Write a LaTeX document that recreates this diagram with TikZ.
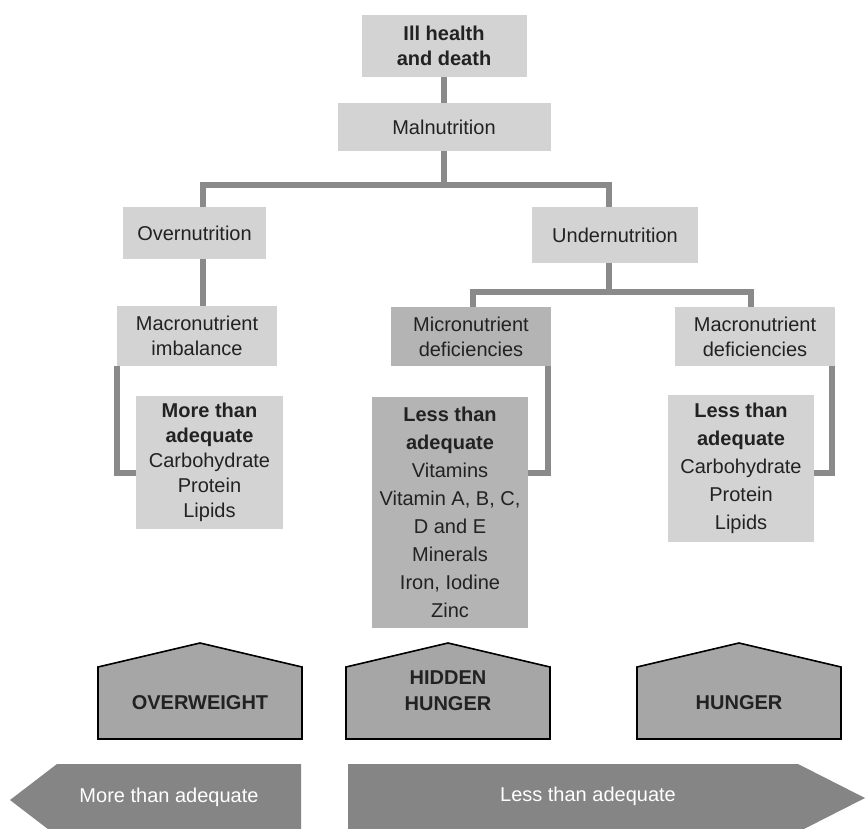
\documentclass[tikz,border=0pt]{standalone}
\usepackage{fontspec}
\setmainfont{Liberation Sans}
\definecolor{boxlight}{HTML}{D3D3D3}
\definecolor{boxdark}{HTML}{B4B4B4}
\definecolor{housegray}{HTML}{A6A6A6}
\definecolor{bandgray}{HTML}{858585}
\definecolor{linkgray}{HTML}{8A8A8A}
\definecolor{ink}{HTML}{222222}
\tikzset{box/.style={fill=boxlight,text=ink,align=center,inner sep=0pt,
                     font=\fontsize{10}{12.5}\selectfont},
         boldbox/.style={box,font=\fontsize{10}{12.8}\selectfont\bfseries},
         listbox/.style={box,font=\fontsize{10}{14}\selectfont},
         darkbox/.style={fill=boxdark},
         link/.style={draw=linkgray,line width=2.7pt},
         house/.style={fill=housegray,draw=black,line width=0.8pt},
         housetext/.style={text=ink,align=center,font=\fontsize{10}{13}\selectfont\bfseries},
         band/.style={fill=bandgray},
         bandtext/.style={text=white,font=\fontsize{10}{12}\selectfont}}

\begin{document}
\begin{tikzpicture}[x=0.5pt,y=-0.5pt]
\clip (0,0) rectangle (865,828);
% causes
\node[boldbox,minimum width=82.5pt,minimum height=31pt] (ill) at (444,46) {Ill health\\and death};
\node[box,minimum width=106.5pt,minimum height=24pt] (mal) at (444,127) {Malnutrition};
\node[box,minimum width=71.5pt,minimum height=26pt] (over) at (194.5,233) {Overnutrition};
\node[box,minimum width=83pt,minimum height=28pt] (under) at (615,235) {Undernutrition};
\node[box,minimum width=80pt,minimum height=30pt] (imb) at (197,336) {Macronutrient\\imbalance};
\node[box,darkbox,minimum width=80pt,minimum height=29.5pt] (micro) at (471,336.5) {Micronutrient\\deficiencies};
\node[box,minimum width=80pt,minimum height=29.5pt] (macd) at (755,336.5) {Macronutrient\\deficiencies};
% intake
\node[box,minimum width=73.5pt,minimum height=66.5pt] (more) at (209.5,462.5)
  {\textbf{More than}\\\textbf{adequate}\\Carbohydrate\\Protein\\Lipids};
\node[listbox,darkbox,minimum width=78pt,minimum height=115.5pt] (lessA) at (450,512.5)
  {\textbf{Less than}\\\textbf{adequate}\\Vitamins\\Vitamin A, B, C,\\D and E\\Minerals\\Iron, Iodine\\Zinc};
\node[listbox,minimum width=73pt,minimum height=73.5pt] (lessB) at (741,468.5)
  {\textbf{Less than}\\\textbf{adequate}\\Carbohydrate\\Protein\\Lipids};

% connectors
\coordinate (b1) at (203,185);
\coordinate (b2) at (609,185);
\coordinate (b3) at (473,292);
\coordinate (b4) at (751,292);
\coordinate (s1) at (117,473);
\coordinate (s2) at (548,473);
\coordinate (s3) at (832,473);
\draw[link] (ill) -- (mal);
\draw[link] (mal.south) -- (mal.south |- b1);
\draw[link] (over.north -| b1) -- (b1) -- (b2) -- (under.north -| b2);
\draw[link] (over.south -| b1) -- (imb.north -| b1);
\draw[link] (under.south -| b2) -- (b2 |- b3);
\draw[link] (micro.north -| b3) -- (b3) -- (b4) -- (macd.north -| b4);
\draw[link] (imb.south -| s1) -- (s1) -- (more.west |- s1);
\draw[link] (micro.south -| s2) -- (s2) -- (lessA.east |- s2);
\draw[link] (macd.south -| s3) -- (s3) -- (lessB.east |- s3);

% outcomes
\draw[house] (98,739) -- (98,667) -- (200,643) -- (302,667) -- (302,739) -- cycle;
\draw[house] (346,739) -- (346,667) -- (448,643) -- (550,667) -- (550,739) -- cycle;
\draw[house] (637,739) -- (637,667) -- (739,643) -- (841,667) -- (841,739) -- cycle;
\node[housetext] (ow) at (200,703) {OVERWEIGHT};
\node[housetext] (hh) at (448,691) {HIDDEN\\HUNGER};
\node[housetext] (hu) at (739,703) {HUNGER};

% scale
\fill[band] (10,800) -- (57,764) -- (301,764) -- (301,836) -- (57,836) -- cycle;
\fill[band] (348,764) -- (798,764) -- (865,798) -- (798,832) -- (348,832) -- cycle;
\node[bandtext] (mt) at (169,797) {More than adequate};
\node[bandtext] (lt) at (588,796) {Less than adequate};
\end{tikzpicture}
\end{document}
